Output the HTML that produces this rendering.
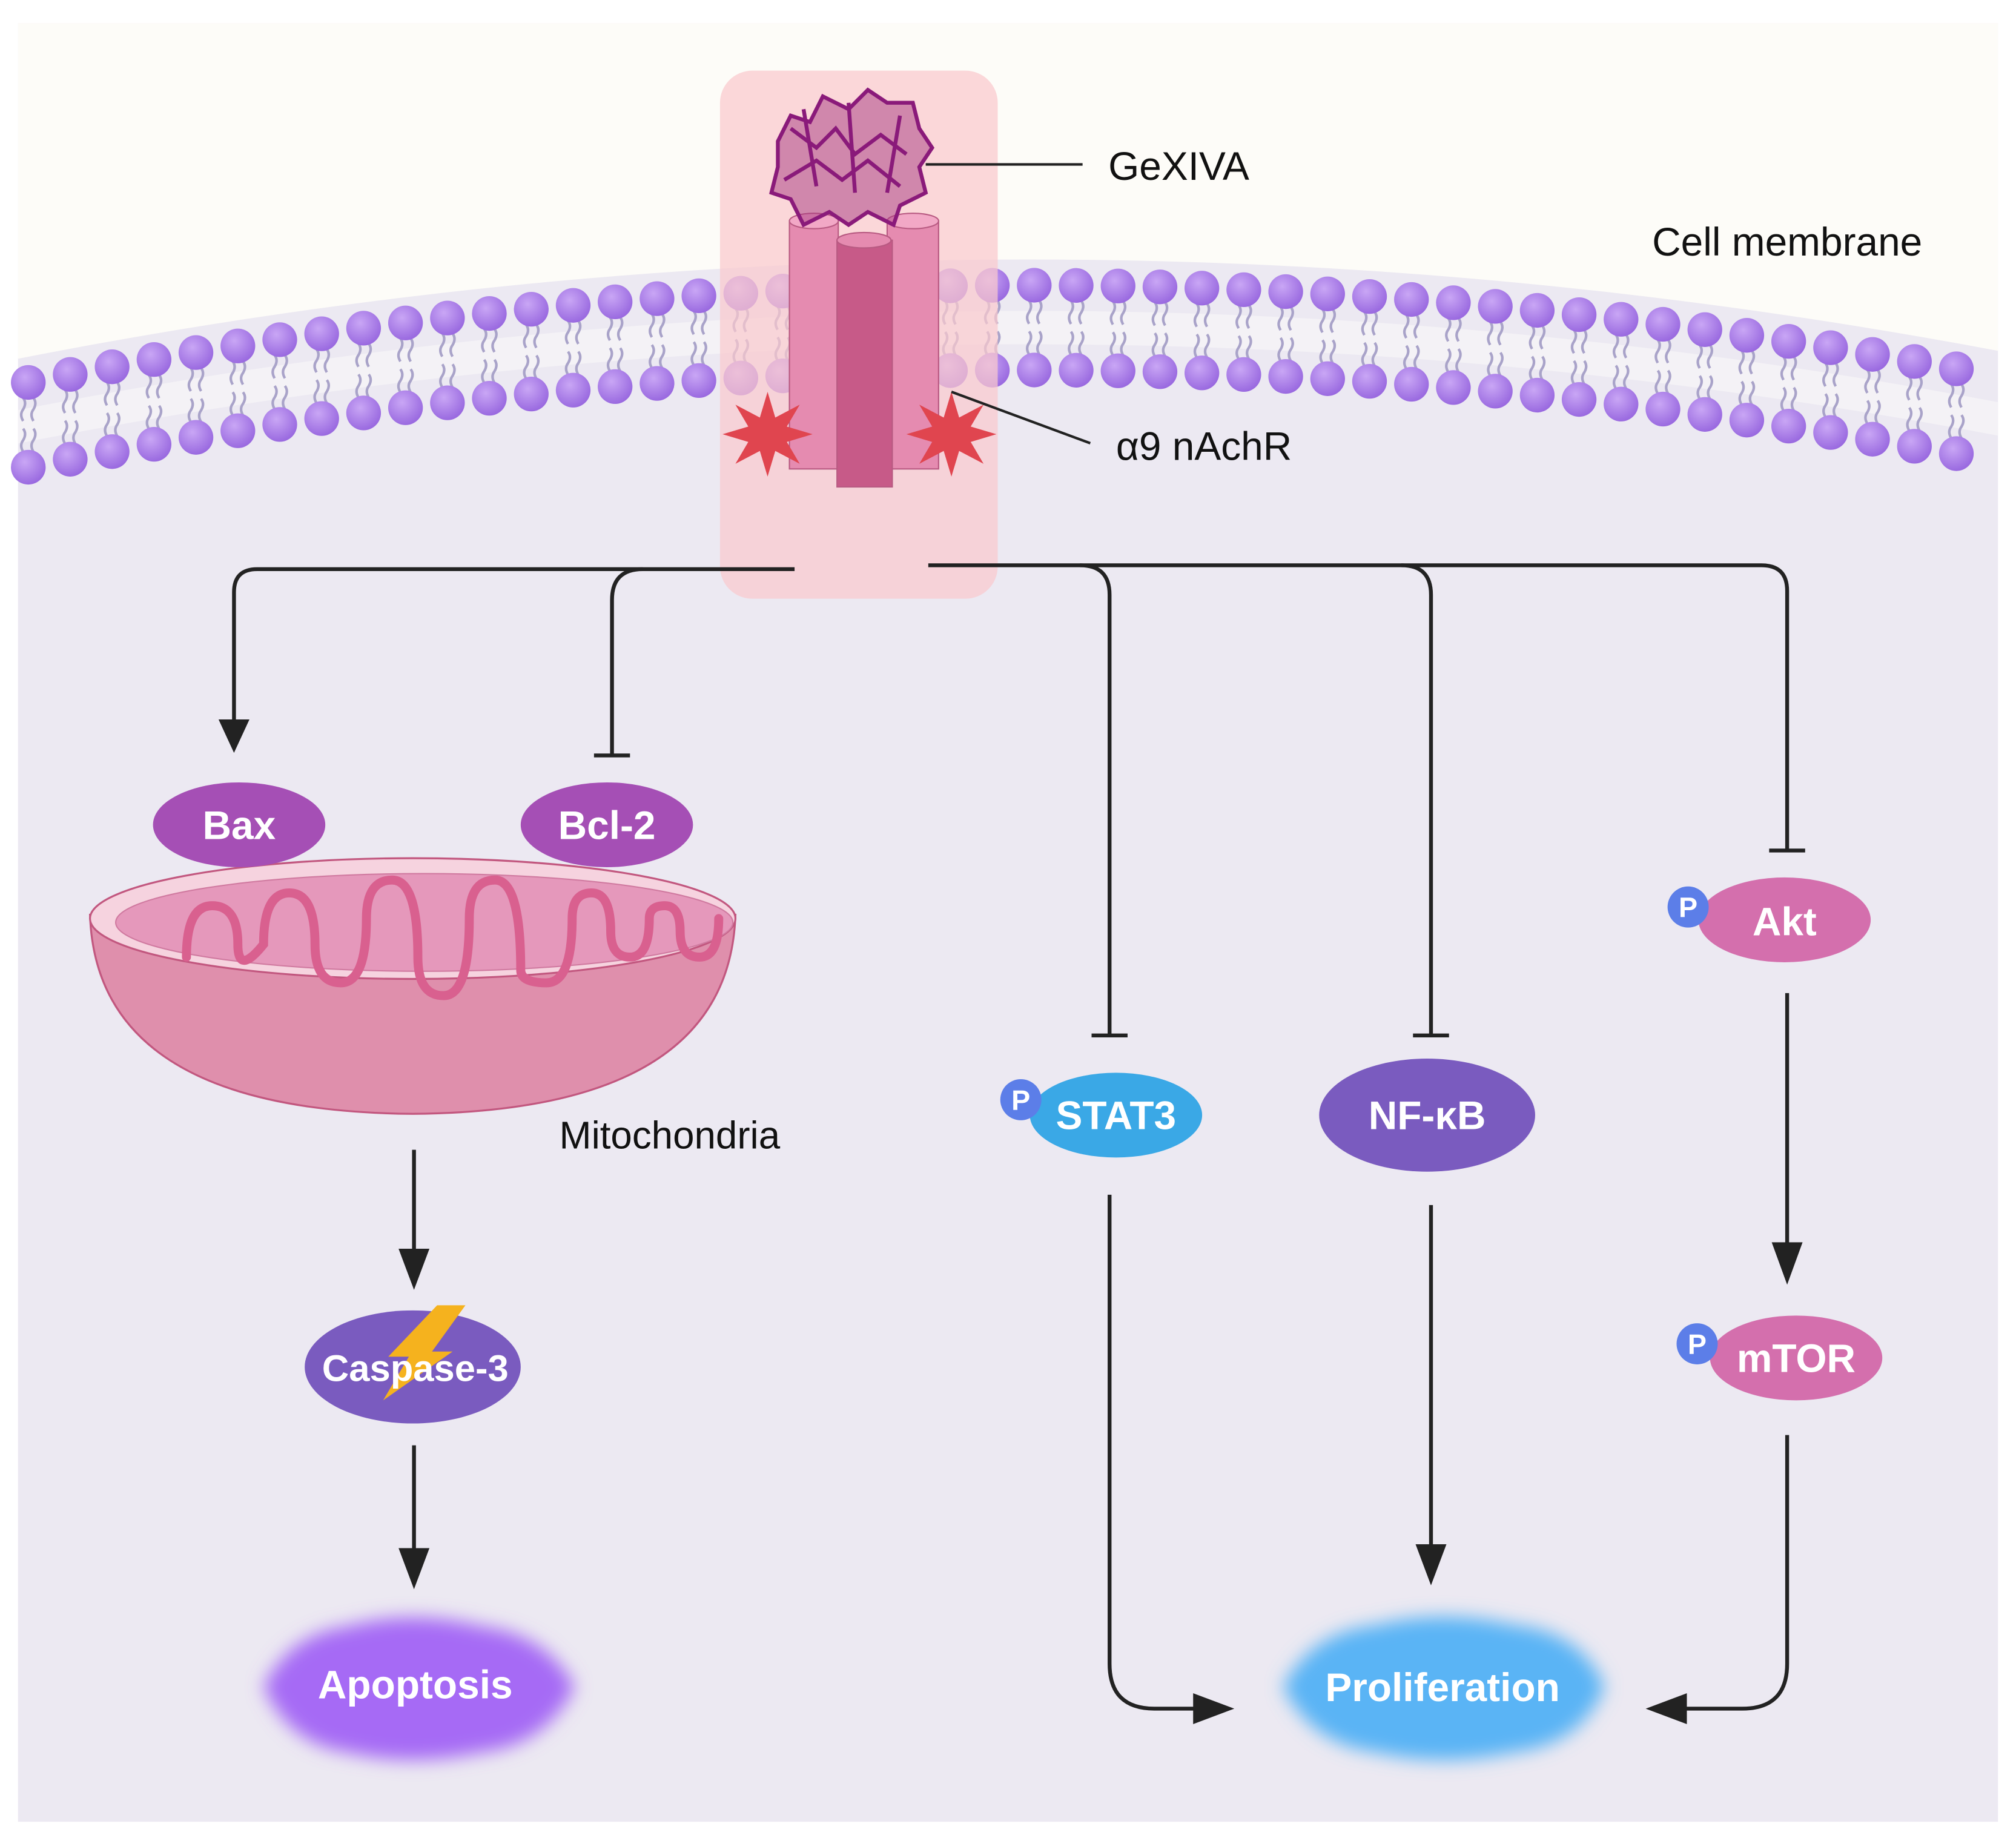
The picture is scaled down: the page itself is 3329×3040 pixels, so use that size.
<!DOCTYPE html>
<html><head><meta charset="utf-8">
<style>html,body{margin:0;padding:0;background:#fff}svg{display:block}</style>
</head><body>
<svg id="s" width="3329" height="3040" viewBox="0 0 1568 1433" preserveAspectRatio="none" xmlns="http://www.w3.org/2000/svg" font-family="Liberation Sans, sans-serif">
<defs>
<filter id="bl" x="-20%" y="-40%" width="140%" height="180%"><feGaussianBlur stdDeviation="7"/></filter>
<radialGradient id="hd" cx="40%" cy="35%" r="65%"><stop offset="0" stop-color="#c9a6f5"/><stop offset="1" stop-color="#9a6ae0"/></radialGradient>
</defs>
<rect x="0" y="0" width="1568" height="1433" fill="#fff"/>
<rect x="14" y="18" width="1540" height="1400" fill="#ece9f2"/>
<path id="top" fill="#fdfcf8"/>
<g id="mem"></g>
<rect x="560" y="55" width="216" height="411" rx="25" fill="#f9c9cd" opacity="0.72"/>
<g stroke="#b85a82" stroke-width="1">
<rect x="614" y="172" width="38" height="193" fill="#e58bb0"/><ellipse cx="633" cy="172" rx="19" ry="6" fill="#f2a8c6"/>
<rect x="690" y="172" width="40" height="193" fill="#e58bb0"/><ellipse cx="710" cy="172" rx="20" ry="6" fill="#f2a8c6"/>
<rect x="651" y="187" width="43" height="192" fill="#c75a88"/><ellipse cx="672" cy="187" rx="21" ry="6" fill="#e58bb0"/>
</g>
<g fill="#e0454f">
<polygon points="597,305 603,325 622,315 612,332 632,338 612,344 622,361 603,351 597,371 591,351 572,361 582,344 562,338 582,332 572,315 591,325"/>
<polygon points="740,305 746,325 765,315 755,332 775,338 755,344 765,361 746,351 740,371 734,351 715,361 725,344 705,338 725,332 715,315 734,325"/>
</g>
<g fill="none" stroke="#8a1a7a" stroke-width="3">
<path d="M605 110 l10 -20 l15 5 l10 -20 l20 10 l15 -15 l15 10 l20 0 l5 20 l10 15 l-10 15 l5 20 l-20 10 l-5 15 l-20 -10 l-15 10 l-15 -10 l-20 10 l-10 -20 l-15 -5 l5 -20 z" fill="#a5387f" fill-opacity="0.5"/>
<path d="M615 100 l20 15 l15 -15 l15 20 l20 -15 l20 15 M610 140 l25 -15 l20 15 l20 -15 l25 20 M625 85 l10 60 M660 80 l5 70 M700 90 l-10 60"/>
</g>
<line x1="720" y1="128" x2="842" y2="128" stroke="#222" stroke-width="2"/>
<text x="862" y="140" font-size="31" fill="#111">GeXIVA</text>
<text x="1285" y="199" font-size="31" fill="#111">Cell membrane</text>
<line x1="740" y1="305" x2="848" y2="345" stroke="#222" stroke-width="2"/>
<text x="868" y="358" font-size="31" fill="#111">α9 nAchR</text>
<g fill="none" stroke="#222" stroke-width="3">
<path d="M618 443 H200 Q182 443 182 461 V565"/>
<path d="M500 443 Q476 443 476 467 V588"/><line x1="462" y1="588" x2="490" y2="588"/>
<path d="M722 440 H1370 Q1390 440 1390 460 V662"/><line x1="1376" y1="662" x2="1404" y2="662"/>
<path d="M840 440 Q863 440 863 463 V806"/><line x1="849" y1="806" x2="877" y2="806"/>
<path d="M1090 440 Q1113 440 1113 463 V806"/><line x1="1099" y1="806" x2="1127" y2="806"/>
<line x1="1390" y1="773" x2="1390" y2="980"/>
<line x1="322" y1="895" x2="322" y2="985"/>
<line x1="322" y1="1125" x2="322" y2="1218"/>
<path d="M863 930 V1295 Q863 1330 898 1330 H940"/>
<line x1="1113" y1="938" x2="1113" y2="1215"/>
<path d="M1390 1117 V1295 Q1390 1330 1355 1330 H1300"/>
</g>
<g fill="#222">
<polygon points="170,560 194,560 182,586"/>
<polygon points="1378,967 1402,967 1390,1000"/>
<polygon points="310,972 334,972 322,1004"/>
<polygon points="310,1205 334,1205 322,1237"/>
<polygon points="1101,1202 1125,1202 1113,1234"/>
<polygon points="928,1318 960,1330 928,1342"/>
<polygon points="1312,1318 1280,1330 1312,1342"/>
</g>
<path d="M70 712 Q75 865 321 867 Q567 865 572 712 Z" fill="#df8fac" stroke="#c2577f" stroke-width="1.5"/>
<ellipse cx="321" cy="715" rx="251" ry="47" fill="#f6d3df" stroke="#c2577f" stroke-width="1.5"/>
<ellipse cx="330" cy="718" rx="240" ry="38" fill="#e598bb" stroke="#d07aa0" stroke-width="1"/>
<path d="M145 745 q0 -40 20 -40 q20 0 20 30 q0 25 20 0 q0 -40 20 -40 q20 0 20 40 q0 30 20 30 q20 0 20 -50 q0 -30 20 -30 q20 0 20 60 q0 30 20 30 q20 0 20 -60 q0 -30 20 -30 q20 0 20 70 q0 10 20 10 q20 0 20 -50 q0 -20 15 -20 q15 0 15 30 q0 20 15 20 q15 0 15 -30 q0 -10 12 -10 q12 0 12 20 q0 20 15 20 q15 0 15 -30" fill="none" stroke="#d9608f" stroke-width="7" stroke-linecap="round"/>
<text x="435" y="894" font-size="30" fill="#111">Mitochondria</text>
<g font-weight="bold" font-size="31" fill="#fff" text-anchor="middle">
<ellipse cx="186" cy="642" rx="67" ry="33" fill="#a54fb5"/><text x="186" y="653" fill="#fff">Bax</text>
<ellipse cx="472" cy="642" rx="67" ry="33" fill="#a54fb5"/><text x="472" y="653" fill="#fff">Bcl-2</text>
<ellipse cx="321" cy="1064" rx="84" ry="44" fill="#7a5bbf"/>
<polygon points="340,1016 362,1016 336,1052 352,1052 298,1090 318,1056 302,1056" fill="#f5b21e"/>
<text x="323" y="1075" fill="#fff" font-size="29">Caspase-3</text>
<ellipse cx="868" cy="868" rx="67" ry="33" fill="#3aa8e6"/><text x="868" y="879" fill="#fff">STAT3</text>
<ellipse cx="1110" cy="868" rx="84" ry="44" fill="#7a5bbf"/><text x="1110" y="879" fill="#fff">NF-κB</text>
<ellipse cx="1388" cy="716" rx="67" ry="33" fill="#d46fad"/><text x="1388" y="728" fill="#fff">Akt</text>
<ellipse cx="1397" cy="1057" rx="67" ry="33" fill="#d46fad"/><text x="1397" y="1068" fill="#fff">mTOR</text>
<g font-size="22">
<circle cx="794" cy="856" r="16" fill="#5c7ee8"/><text x="794" y="864" fill="#fff">P</text>
<circle cx="1313" cy="706" r="16" fill="#5c7ee8"/><text x="1313" y="714" fill="#fff">P</text>
<circle cx="1320" cy="1046" r="16" fill="#5c7ee8"/><text x="1320" y="1054" fill="#fff">P</text>
</g>
<path d="M205 1313 Q225 1272 270 1266 Q320 1252 375 1266 Q425 1272 447 1313 Q425 1358 375 1364 Q320 1376 270 1364 Q225 1358 205 1313Z" fill="#a66af5" filter="url(#bl)"/>
<text x="323" y="1322" fill="#fff">Apoptosis</text>
<path d="M998 1313 Q1020 1270 1070 1265 Q1122 1252 1178 1265 Q1230 1270 1248 1313 Q1230 1358 1178 1364 Q1122 1376 1070 1364 Q1020 1358 998 1313Z" fill="#5ab4f5" filter="url(#bl)"/>
<text x="1122" y="1324" fill="#fff">Proliferation</text>
</g>
<script>
(function(){
var ns="http://www.w3.org/2000/svg",g=document.getElementById('mem');
function y(x){return 222+0.000125*(x-800)*(x-800);}
var d="M14 18 H1554 V"+(y(1554)-20);
for(var x=1554;x>=14;x-=10)d+=" L"+x+" "+(y(x)-20);
d+=" Z";document.getElementById('top').setAttribute('d',d);
var band="M14 "+(y(14)+20);for(x=14;x<=1554;x+=10)band+=" L"+x+" "+(y(x)+20);
for(x=1554;x>=14;x-=10)band+=" L"+x+" "+(y(x)+46);band+="Z";
var b=document.createElementNS(ns,'path');b.setAttribute('d',band);b.setAttribute('fill','#f4f2f6');g.appendChild(b);
for(x=22;x<1554;x+=32.6){
 var yy=y(x);
 [[yy+12,yy+30],[yy+36,yy+54]].forEach(function(p){
  for(var k=-1;k<=1;k+=2){var l=document.createElementNS(ns,'path');
  l.setAttribute('d','M'+(x+k*4)+' '+p[0]+' q3 4 0 9 q-3 4 0 9');l.setAttribute('stroke','#a9a3c9');l.setAttribute('stroke-width','2');l.setAttribute('fill','none');g.appendChild(l);}
 });
 [yy,yy+66].forEach(function(cy){var c=document.createElementNS(ns,'circle');c.setAttribute('cx',x);c.setAttribute('cy',cy);c.setAttribute('r',13.5);c.setAttribute('fill','url(#hd)');g.appendChild(c);});
}
})();
</script>
</svg>
</body></html>
